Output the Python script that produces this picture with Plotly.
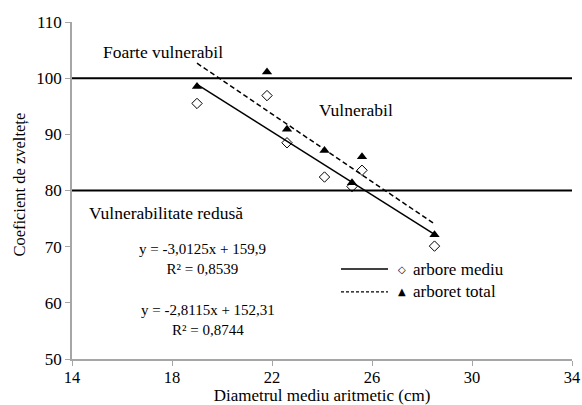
import plotly.graph_objects as go

# Mean diameter (cm) of each stand
diametru = [19.0, 21.8, 22.6, 24.1, 25.2, 25.6, 28.5]
# Slenderness coefficient: mean tree and whole stand
coef_arbore_mediu = [95.5, 96.9, 88.5, 82.4, 80.7, 83.6, 70.1]
coef_arboret_total = [98.5, 101.1, 90.9, 87.1, 81.4, 86.0, 72.1]

# Linear trends (slope, intercept, R²)
trend_arbore_mediu = (-2.8115, 152.31, 0.8744)
trend_arboret_total = (-3.0125, 159.9, 0.8539)

# Vulnerability thresholds
praguri = [100, 80]

x_ticks = [14, 18, 22, 26, 30, 34]
y_ticks = [50, 60, 70, 80, 90, 100, 110]

FONT = "'Liberation Serif', 'Times New Roman', serif"
AXIS_GREY = "#a6a6a6"


def fmt(v, nd):
    return f"{v:.{nd}f}".replace(".", ",")


def trend_points(trend):
    a, b, _ = trend
    xs = [min(diametru), max(diametru)]
    return xs, [a * x + b for x in xs]


fig = go.Figure()

# Trend lines
tx, ty = trend_points(trend_arbore_mediu)
fig.add_trace(go.Scatter(x=tx, y=ty, mode="lines",
                         line=dict(color="black", width=1.5), showlegend=False))
tx, ty = trend_points(trend_arboret_total)
fig.add_trace(go.Scatter(x=tx, y=ty, mode="lines",
                         line=dict(color="black", width=1.5, dash="5px,3px"),
                         showlegend=False))

# Observations
fig.add_trace(go.Scatter(x=diametru, y=coef_arbore_mediu, mode="markers",
                         marker=dict(symbol="diamond-open", size=8, color="black",
                                     line=dict(width=1, color="black")),
                         showlegend=False))
fig.add_trace(go.Scatter(x=diametru, y=coef_arboret_total, mode="markers",
                         marker=dict(symbol="triangle-up", size=9, color="black"),
                         showlegend=False))

# Threshold lines
for p in praguri:
    fig.add_shape(type="line", xref="x domain", yref="y", x0=0, x1=1, y0=p, y1=p,
                  line=dict(color="black", width=2), layer="below")

annots = []
for text, x, y in [("Foarte vulnerabil", 0.058, 0.911),
                   ("Vulnerabil", 0.49, 0.739),
                   ("Vulnerabilitate redusă", 0.03, 0.433)]:
    annots.append(dict(text=text, x=x, y=y, xref="paper", yref="paper",
                       xanchor="left", yanchor="middle", showarrow=False,
                       font=dict(family=FONT, size=17.5, color="black")))


def eq_text(trend):
    a, b, r2 = trend
    return f"y = {fmt(a, 4)}x + {fmt(b, len(str(b).split('.')[1]))}<br>R² = {fmt(r2, 4)}"


annots.append(dict(text=eq_text(trend_arboret_total), x=0.26, y=0.298,
                   xref="paper", yref="paper", showarrow=False, align="center",
                   xanchor="center", yanchor="middle",
                   font=dict(family=FONT, size=15, color="black")))
annots.append(dict(text=eq_text(trend_arbore_mediu), x=0.272, y=0.117,
                   xref="paper", yref="paper", showarrow=False, align="center",
                   xanchor="center", yanchor="middle",
                   font=dict(family=FONT, size=15, color="black")))

# Legend drawn as line samples, symbols and labels
leg = [("arbore mediu", 0.267, "solid", "◇"), ("arboret total", 0.199, "3px,2px", "▲")]
for label, ly, dash, sym in leg:
    fig.add_shape(type="line", xref="paper", yref="paper", x0=0.538, x1=0.632,
                  y0=ly, y1=ly, line=dict(color="black", width=1.3, dash=dash))
    annots.append(dict(text=sym, x=0.66, y=ly, xref="paper", yref="paper",
                       showarrow=False, xanchor="center", yanchor="middle",
                       font=dict(family="DejaVu Sans", size=10, color="black")))
    annots.append(dict(text=label, x=0.678, y=ly, xref="paper", yref="paper",
                       showarrow=False, xanchor="left", yanchor="middle",
                       font=dict(family=FONT, size=17, color="black")))

# Y axis title, placed as a rotated label
annots.append(dict(text="Coeficient de zveltețe", x=-0.105, y=0.516,
                   xref="paper", yref="paper", showarrow=False, textangle=-90,
                   xanchor="center", yanchor="middle",
                   font=dict(family=FONT, size=16.5, color="black")))

fig.update_layout(
    width=582, height=405,
    margin=dict(l=72, r=10, t=22, b=46),
    paper_bgcolor="white", plot_bgcolor="white",
    font=dict(family=FONT, size=17, color="black"),
    annotations=annots,
    showlegend=False,
)
fig.update_xaxes(range=[14, 34], tickvals=x_ticks, ticks="outside", ticklen=5,
                 tickcolor=AXIS_GREY, showline=True, linecolor=AXIS_GREY, linewidth=1.5,
                 showgrid=False, zeroline=False, automargin=False,
                 ticklabelstandoff=-3,
                 tickfont=dict(family=FONT, size=16.5),
                 title=dict(text="Diametrul mediu aritmetic (cm)", standoff=4,
                            font=dict(family=FONT, size=17)))
fig.update_yaxes(range=[50, 110], tickvals=y_ticks, ticks="outside", ticklen=5,
                 tickcolor=AXIS_GREY, showline=True, linecolor=AXIS_GREY, linewidth=1.5,
                 showgrid=False, zeroline=False, automargin=False,
                 tickfont=dict(family=FONT, size=17))

fig.write_html("out.html")
